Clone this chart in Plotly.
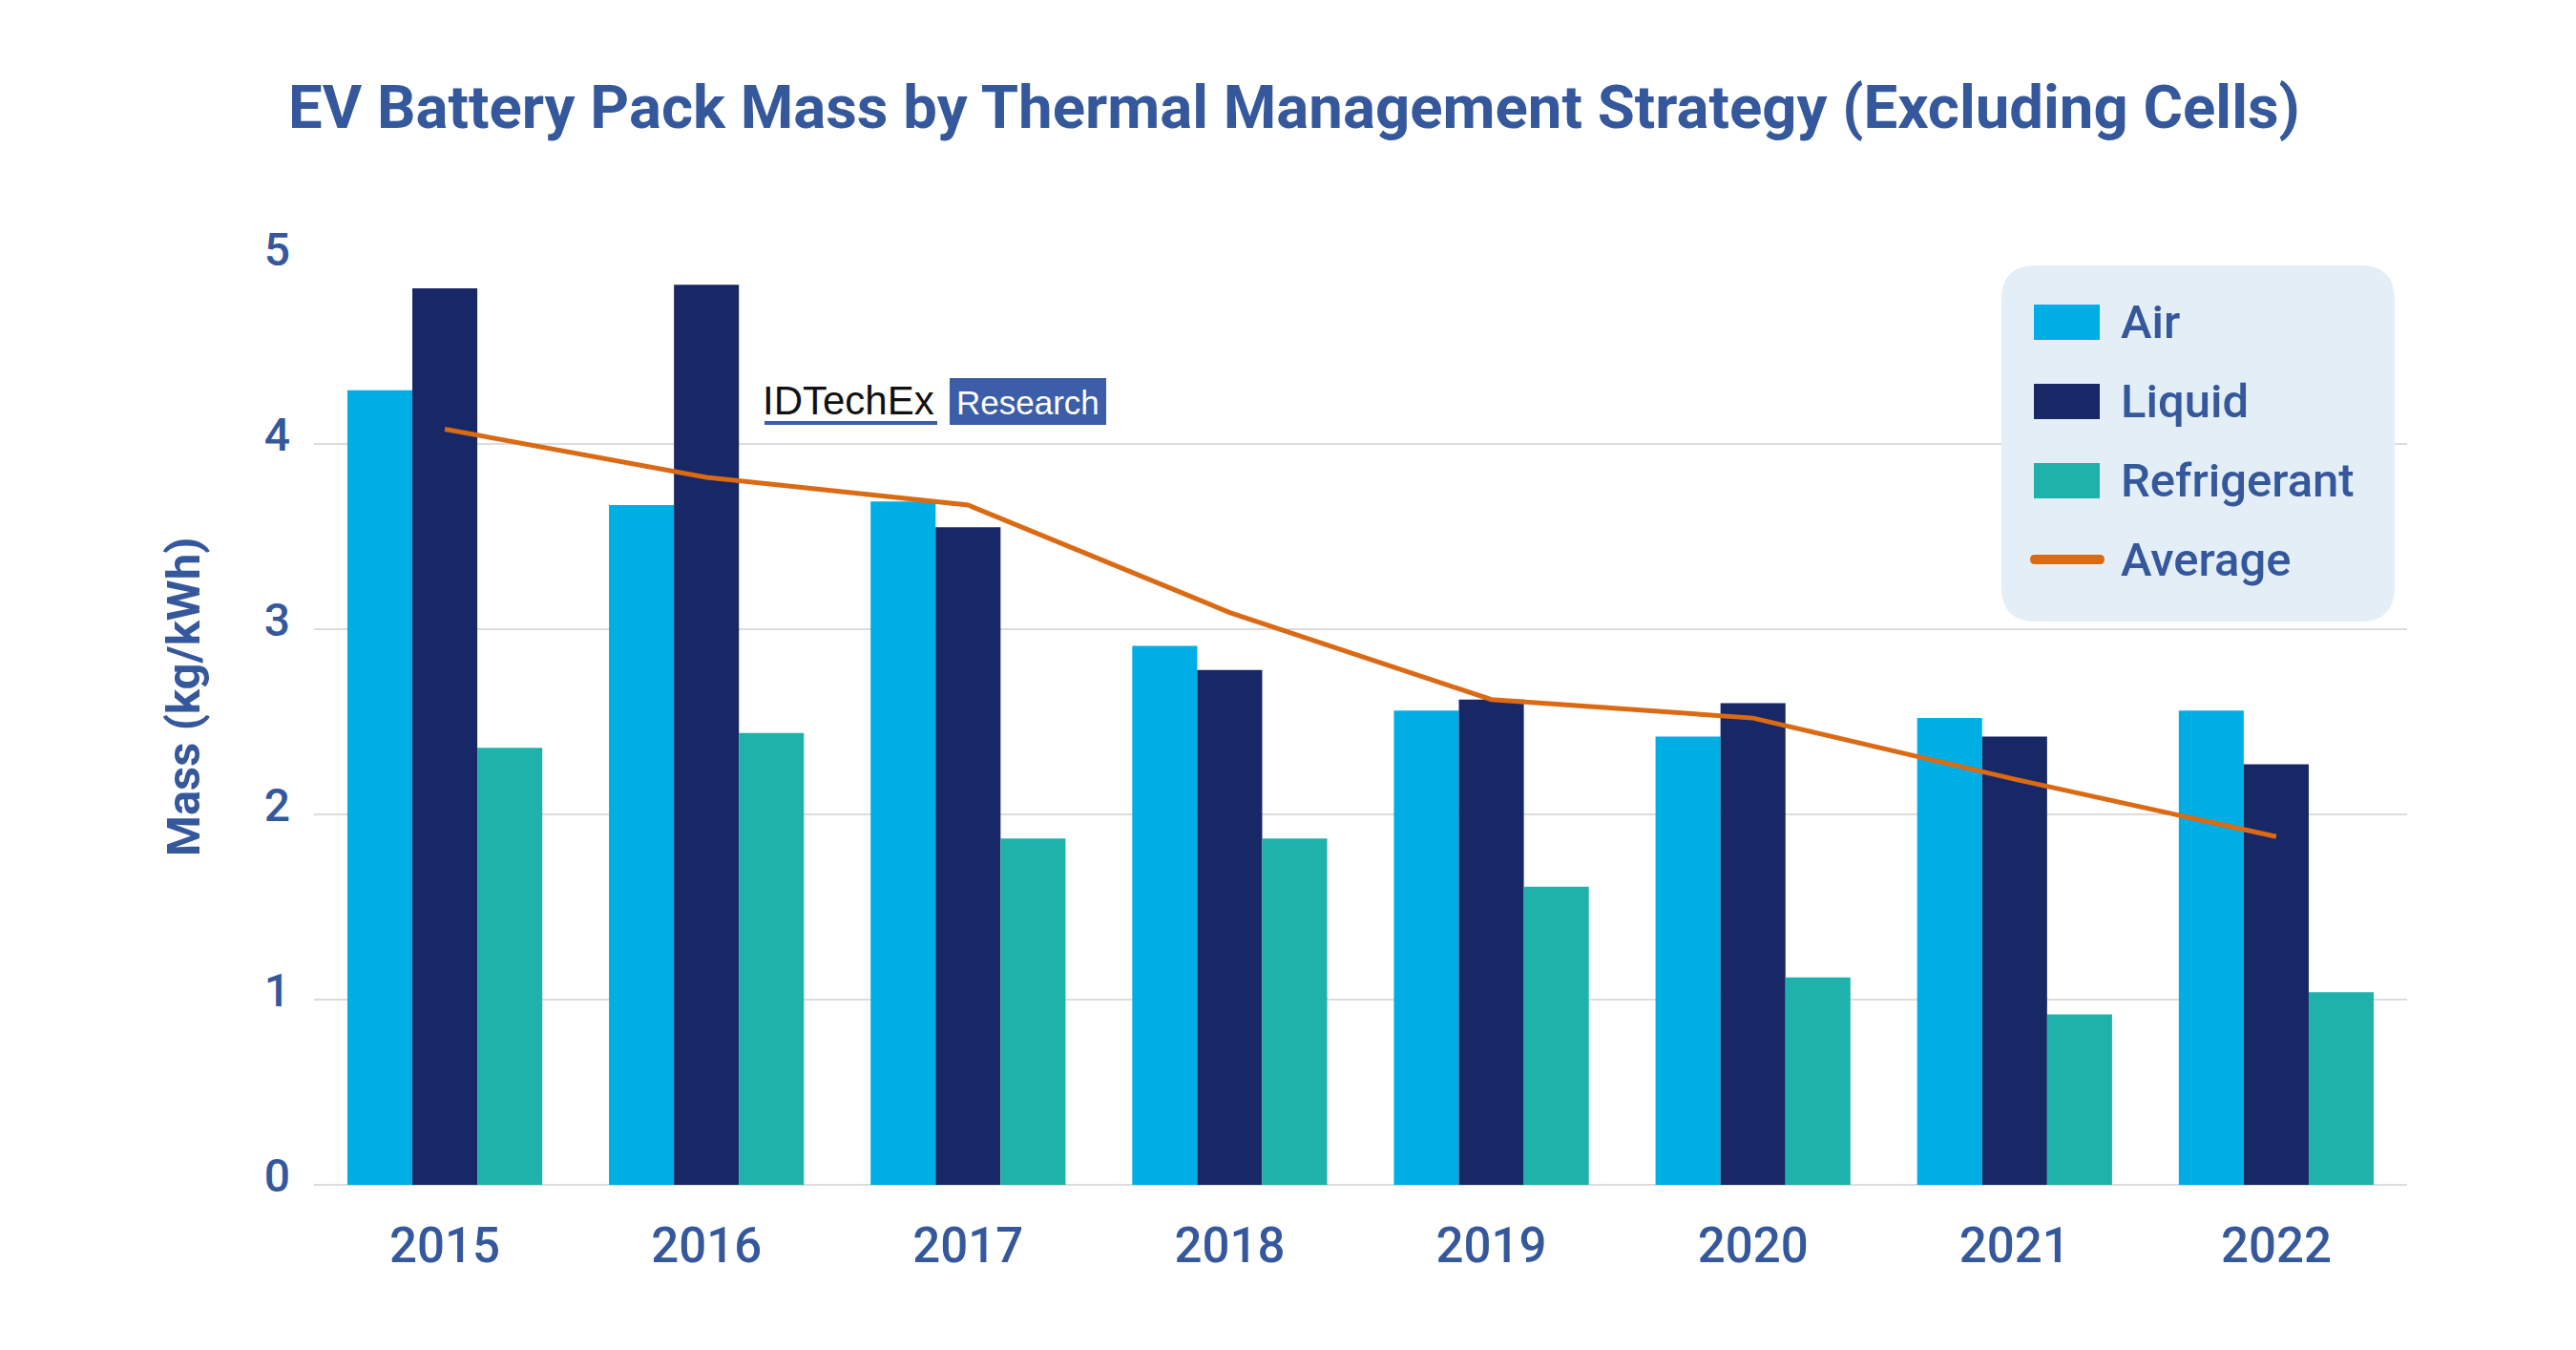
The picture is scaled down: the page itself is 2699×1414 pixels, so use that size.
import plotly.graph_objects as go

years = ["2015", "2016", "2017", "2018", "2019", "2020", "2021", "2022"]
air = [4.29, 3.67, 3.69, 2.91, 2.56, 2.42, 2.52, 2.56]
liquid = [4.84, 4.86, 3.55, 2.78, 2.62, 2.60, 2.42, 2.27]
refrigerant = [2.36, 2.44, 1.87, 1.87, 1.61, 1.12, 0.92, 1.04]
average = [4.08, 3.82, 3.67, 3.09, 2.62, 2.52, 2.19, 1.88]
y_ticks = [0, 1, 2, 3, 4, 5]

series_names = ["Air", "Liquid", "Refrigerant", "Average"]
C_AIR, C_LIQ, C_REF, C_AVG = "#00AEE6", "#182765", "#1FB2AB", "#DA6A14"
TXT = "#35589C"

W, H = 2699, 1414
L, R, T, B = 321, 2514, 263, 1233

def xp(px):
    return (px - L) / (R - L)

def yp(py):
    return (B - py) / (B - T)

def rounded_rect(x0, x1, y0, y1, r):
    rx = r / (R - L)
    ry = r / (B - T)
    X0, X1, Y0, Y1 = xp(x0), xp(x1), yp(y1), yp(y0)
    return (f"M{X0+rx},{Y0} L{X1-rx},{Y0} Q{X1},{Y0} {X1},{Y0+ry} L{X1},{Y1-ry} Q{X1},{Y1} {X1-rx},{Y1} "
            f"L{X0+rx},{Y1} Q{X0},{Y1} {X0},{Y1-ry} L{X0},{Y0+ry} Q{X0},{Y0} {X0+rx},{Y0} Z")

fig = go.Figure()
for name, vals, col in [(series_names[0], air, C_AIR), (series_names[1], liquid, C_LIQ),
                        (series_names[2], refrigerant, C_REF)]:
    fig.add_trace(go.Bar(x=years, y=vals, name=name, marker=dict(color=col, line=dict(width=0)),
                         showlegend=False))
fig.add_trace(go.Scatter(x=years, y=average, name=series_names[3], mode="lines",
                         line=dict(color=C_AVG, width=5), showlegend=False))

shapes = []
annotations = []

# rounded legend box
shapes.append(dict(type="path", xref="paper", yref="paper", path=rounded_rect(2089, 2501, 270, 643, 36),
                   fillcolor="#E3EEF7", line=dict(width=0), layer="above"))

# legend entries
leg_y = [329, 412, 495, 578]
leg_cols = [C_AIR, C_LIQ, C_REF]
for i in range(3):
    shapes.append(dict(type="rect", xref="paper", yref="paper",
                       x0=xp(2123), x1=xp(2192), y0=yp(leg_y[i] + 19), y1=yp(leg_y[i] - 18),
                       fillcolor=leg_cols[i], line=dict(width=0), layer="above"))
shapes.append(dict(type="path", xref="paper", yref="paper",
                   path=rounded_rect(2119, 2197, leg_y[3] - 5, leg_y[3] + 5, 5),
                   fillcolor=C_AVG, line=dict(width=0), layer="above"))
for i, nm in enumerate(series_names):
    annotations.append(dict(text=nm, xref="paper", yref="paper", x=xp(2212), y=yp(leg_y[i]),
                            xanchor="left", yanchor="middle", showarrow=False,
                            font=dict(family="Roboto", size=49, color=TXT, weight=500)))

# logo
annotations.append(dict(text="IDTechEx", xref="paper", yref="paper", x=xp(789), y=yp(411),
                        xanchor="left", yanchor="middle", showarrow=False,
                        font=dict(family="Liberation Sans", size=42, color="#111111")))
shapes.append(dict(type="rect", xref="paper", yref="paper", x0=xp(793), x1=xp(974),
                   y0=yp(437), y1=yp(433), fillcolor="#3C5DA8", line=dict(width=0), layer="above"))
shapes.append(dict(type="rect", xref="paper", yref="paper", x0=xp(987), x1=xp(1151),
                   y0=yp(437), y1=yp(388), fillcolor="#3C5DA8", line=dict(width=0), layer="above"))
annotations.append(dict(text="Research", xref="paper", yref="paper", x=xp(1069), y=yp(413),
                        xanchor="center", yanchor="middle", showarrow=False,
                        font=dict(family="Liberation Sans", size=35, color="white")))

# y-axis title
annotations.append(dict(text="Mass (kg/kWh)", xref="paper", yref="paper", x=xp(184), y=yp(722),
                        xanchor="center", yanchor="middle", textangle=-90, showarrow=False,
                        font=dict(family="Roboto", size=49, color=TXT, weight=700)))

fig.update_layout(
    width=W, height=H,
    margin=dict(l=L, r=W - R, t=T, b=H - B),
    paper_bgcolor="white", plot_bgcolor="white",
    barmode="group", bargap=0.255, bargroupgap=0,
    title=dict(text="EV Battery Pack Mass by Thermal Management Strategy (Excluding Cells)",
               x=294 / W, xanchor="left", y=1 - 104 / H, yanchor="middle",
               font=dict(family="Roboto", size=63.5, color=TXT, weight=700)),
    xaxis=dict(type="category", showgrid=False, showline=False, ticks="",
               ticklabelstandoff=29,
               tickfont=dict(family="Roboto", size=51, color=TXT, weight=500)),
    yaxis=dict(range=[0, 5], tickvals=y_ticks, showgrid=True, gridcolor="#DCDCDC", gridwidth=2,
               zeroline=True, zerolinecolor="#DCDCDC", zerolinewidth=2, showline=False,
               ticks="", ticklabelstandoff=24, ticklabelshift=-10,
               tickfont=dict(family="Roboto", size=48, color=TXT, weight=500)),
    shapes=shapes, annotations=annotations,
)

fig.write_html("out.html")
